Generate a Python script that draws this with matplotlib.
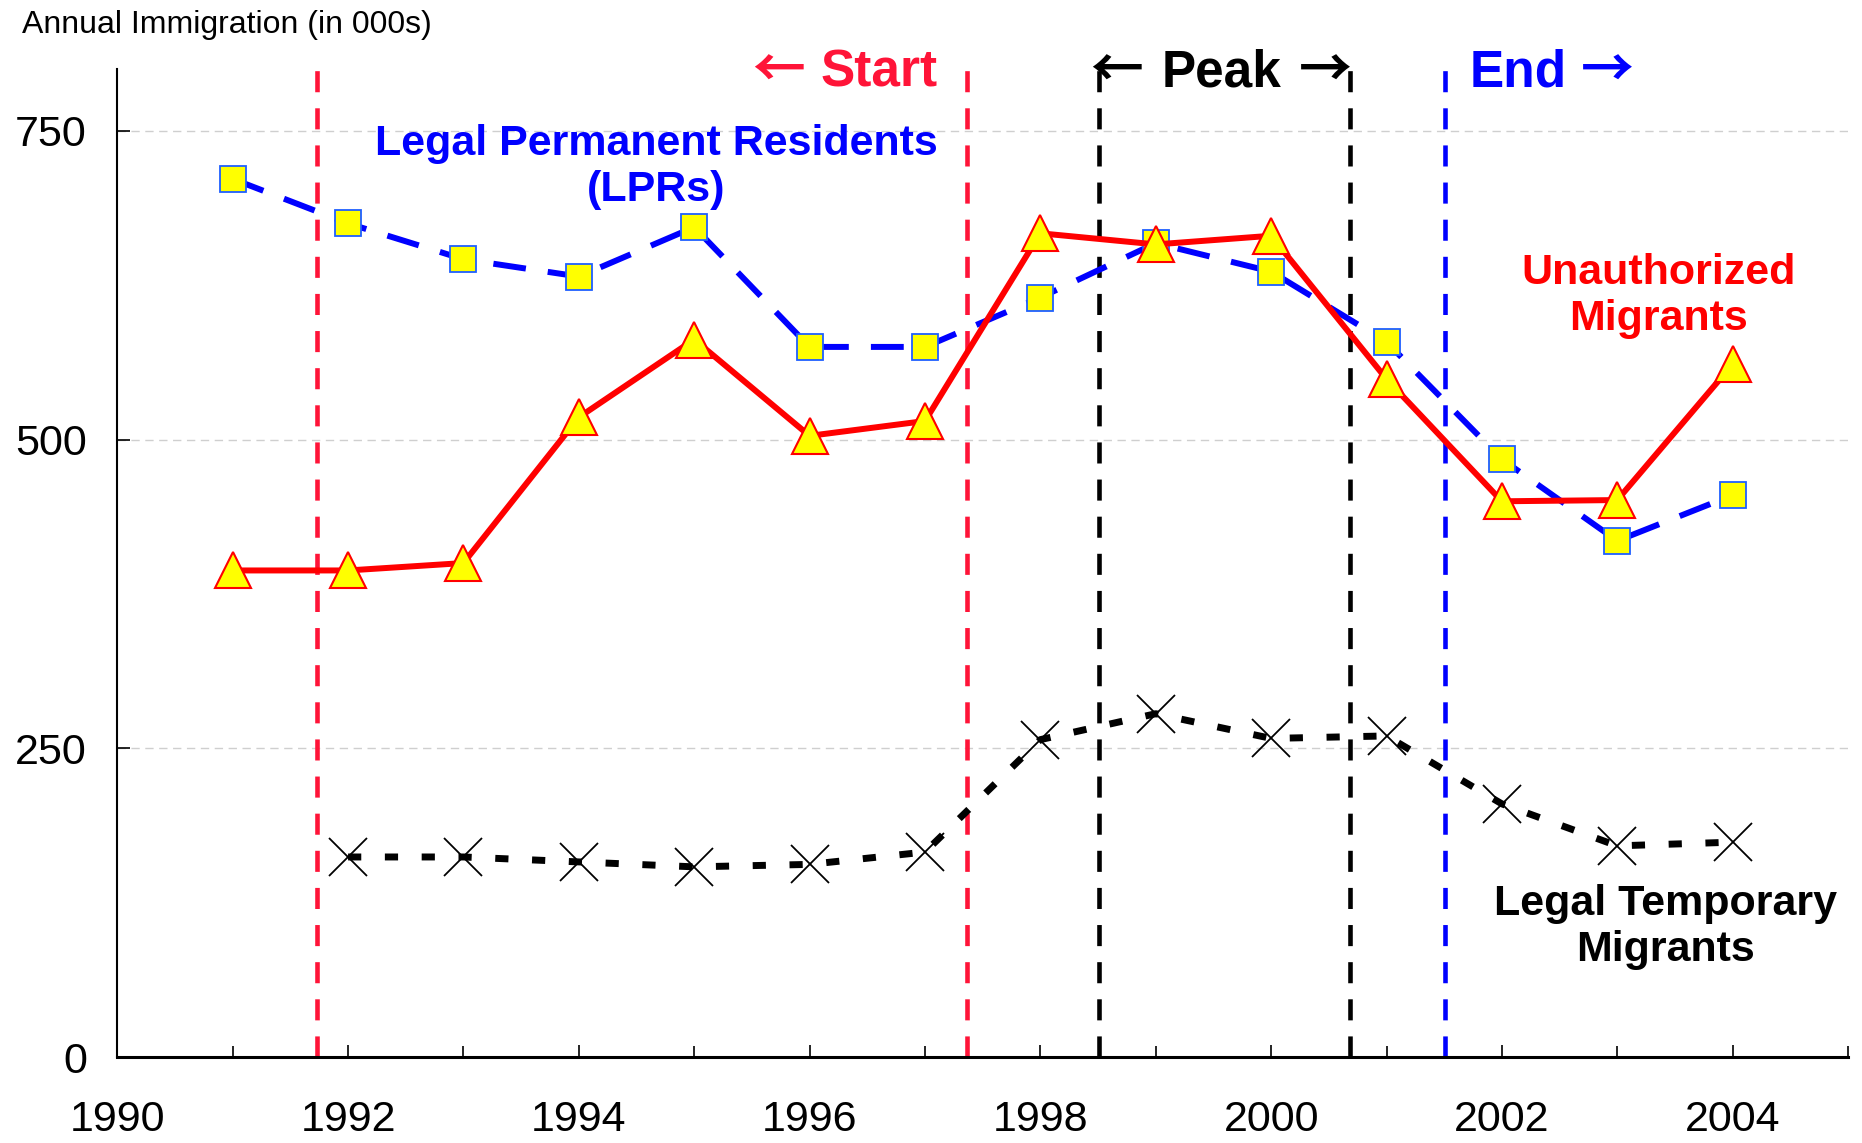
import matplotlib
matplotlib.use("Agg")
import matplotlib.pyplot as plt
from matplotlib.ticker import MultipleLocator

plt.rcParams["font.family"] = ["Liberation Sans", "DejaVu Sans"]

# --- Data (thousands) ---
years = [1991, 1992, 1993, 1994, 1995, 1996, 1997,
         1998, 1999, 2000, 2001, 2002, 2003, 2004]
lpr = [711, 675, 646, 632, 672, 575, 575,
       615, 659, 636, 579, 484, 418, 455]
unauthorized = [394, 394, 400, 518, 581, 503, 515,
                667, 658, 665, 549, 450, 451, 561]
temp_years = [1992, 1993, 1994, 1995, 1996, 1997,
              1998, 1999, 2000, 2001, 2002, 2003, 2004]
temporary = [162, 162, 158, 154, 156, 166,
             257, 278, 258, 260, 205, 171, 174]

# phase boundaries
start_bounds = [1991.73, 1997.36]
peak_bounds = [1998.51, 2000.68]
end_bound = 2001.51

RED = "#ff0000"
VRED = "#ff1438"
BLUE = "#0000ff"
ARROW_FONT = ["Noto Sans CJK JP", "DejaVu Sans"]

fig = plt.figure(figsize=(18.62, 11.43), dpi=100)
ax = fig.add_axes([0.063, 0.0752, 0.9295, 0.8644])

# grid
for v in [250, 500, 750]:
    ax.axhline(v, color="#cfcfcf", lw=1.0, dashes=(6, 4), zorder=0)

# phase boundary lines
for x in start_bounds:
    ax.axvline(x, color=VRED, lw=3.3, dashes=(4.6, 3.5), zorder=1)
for x in peak_bounds:
    ax.axvline(x, color="black", lw=3.3, dashes=(4.6, 3.5), zorder=1)
ax.axvline(end_bound, color=BLUE, lw=3.3, dashes=(4.6, 3.5), zorder=1)

# series
ax.plot(temp_years, temporary, color="black", lw=5, dashes=(1.9, 3.4),
        marker="x", markersize=27, mew=1.3, mec="black", zorder=3)
ax.plot(years, lpr, color=BLUE, lw=4.3, dashes=(5.5, 3.7),
        marker="s", markersize=19, mfc="#ffff00", mec="#1f5fff", mew=1.3,
        zorder=4)
ax.plot(years, unauthorized, color=RED, lw=4.3,
        marker="^", markersize=26.5, mfc="#ffff00", mec=RED, mew=1.5,
        zorder=5)

# axes styling
ax.set_xlim(1990, 2005)
ax.set_ylim(0, 800)
ax.xaxis.set_major_locator(MultipleLocator(2))
ax.xaxis.set_minor_locator(MultipleLocator(1))
ax.set_yticks([0, 250, 500, 750])
ax.tick_params(axis="x", which="major", direction="in", length=9, width=1.2,
               labelsize=31, pad=31)
ax.tick_params(axis="x", which="minor", direction="in", length=8, width=1.2)
ax.tick_params(axis="y", direction="in", length=9, width=1.2,
               labelsize=31, pad=22)
ax.spines["top"].set_visible(False)
ax.spines["right"].set_visible(False)
ax.spines["bottom"].set_linewidth(2.2)
ax.spines["left"].set_linewidth(1.5)

# phase labels: words and arrows
TY = 797
phase_words = [(1996.60, "Start", VRED), (1999.57, "Peak", "black"),
               (2002.14, "End", BLUE)]
phase_arrows = [(1995.73, "\u2190", VRED), (1998.66, "\u2190", "black"),
                (2000.47, "\u2192", "black"), (2002.91, "\u2192", BLUE)]
for x, word, c in phase_words:
    ax.text(x, TY, word, color=c, fontsize=37, fontweight="bold",
            ha="center", va="center")
for x, arr, c in phase_arrows:
    ax.text(x, TY, arr, color=c, fontsize=38, fontweight="bold",
            family=ARROW_FONT, ha="center", va="center")

ax.text(1994.67, 721, "Legal Permanent Residents\n(LPRs)", color=BLUE,
        fontsize=31, fontweight="bold", ha="center", va="center",
        linespacing=1.2)
ax.text(2003.36, 616, "Unauthorized\nMigrants", color=RED,
        fontsize=31, fontweight="bold", ha="center", va="center",
        linespacing=1.2)
ax.text(2003.42, 105, "Legal Temporary\nMigrants", color="black",
        fontsize=31, fontweight="bold", ha="center", va="center",
        linespacing=1.2)

fig.text(22 / 1862, 1 - 33 / 1143, "Annual Immigration (in 000s)",
         fontsize=23, ha="left", va="baseline")

fig.savefig("out.png", dpi=100)
